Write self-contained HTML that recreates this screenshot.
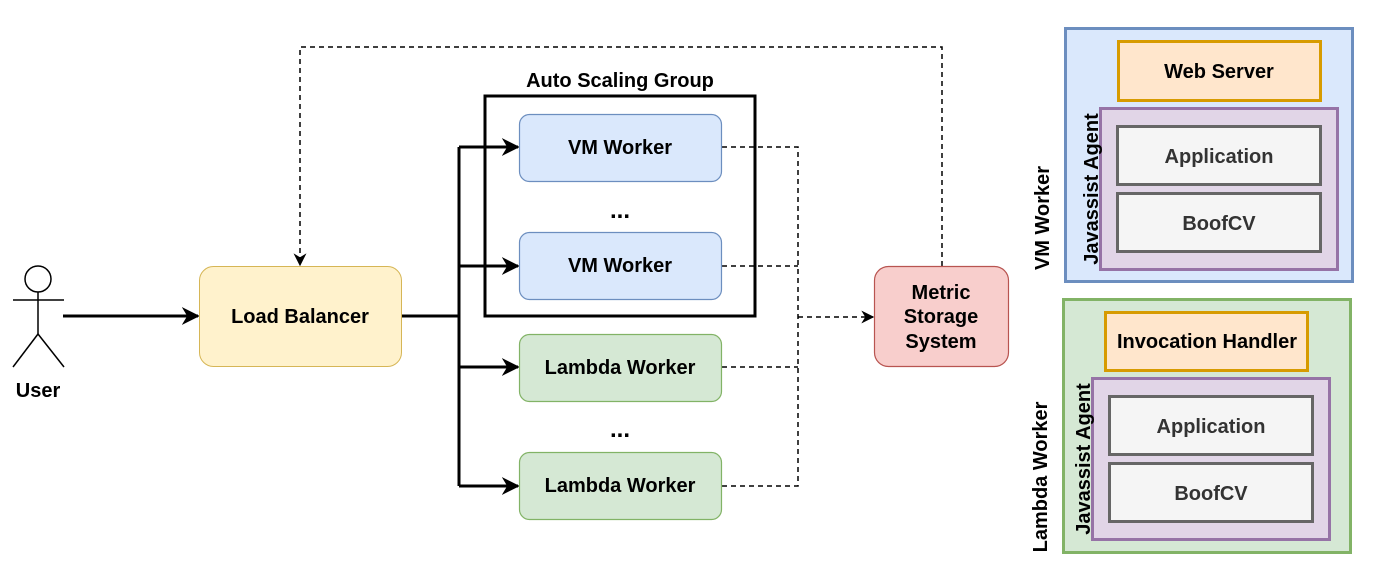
<!DOCTYPE html>
<html><head><style>html,body{margin:0;padding:0;background:#fff}svg{display:block}text{font-family:"Liberation Sans",Arial,sans-serif;font-weight:bold}</style></head>
<body>
<svg width="1381" height="588" viewBox="0 0 1381 588" xmlns="http://www.w3.org/2000/svg">
<defs>
<marker id="a" viewBox="0 0 10 10" refX="9" refY="5" markerWidth="13" markerHeight="13" markerUnits="userSpaceOnUse" orient="auto"><path d="M0,0 L10,5 L0,10 L3,5 Z" fill="#000"/></marker>
<marker id="b" viewBox="0 0 10 10" refX="9" refY="5" markerWidth="18" markerHeight="18" markerUnits="userSpaceOnUse" orient="auto"><path d="M0,0 L10,5 L0,10 L3,5 Z" fill="#000"/></marker>
</defs>
<g stroke="#000" stroke-width="1.5" fill="none">
<circle cx="38" cy="279" r="13" fill="#fff"/>
<line x1="38" y1="292" x2="38" y2="334"/>
<line x1="13" y1="300" x2="64" y2="300"/>
<line x1="38" y1="334" x2="13" y2="367"/>
<line x1="38" y1="334" x2="64" y2="367"/>
</g>
<text x="38" y="397" font-size="20" text-anchor="middle">User</text>
<g stroke="#000" stroke-width="3" fill="none">
<line x1="63" y1="316" x2="198" y2="316" marker-end="url(#b)"/>
<line x1="402" y1="316" x2="459" y2="316"/>
<line x1="459" y1="147" x2="459" y2="486"/>
<line x1="459" y1="147" x2="518" y2="147" marker-end="url(#b)"/>
<line x1="459" y1="266" x2="518" y2="266" marker-end="url(#b)"/>
<line x1="459" y1="367" x2="518" y2="367" marker-end="url(#b)"/>
<line x1="459" y1="486" x2="518" y2="486" marker-end="url(#b)"/>
</g>
<rect x="485" y="96" width="270" height="220" fill="none" stroke="#000" stroke-width="3"/>
<text x="620" y="87" font-size="20" text-anchor="middle">Auto Scaling Group</text>
<g stroke="#000" stroke-width="1.5" fill="none" stroke-dasharray="5,4">
<polyline points="942,266 942,47 300,47 300,265" marker-end="url(#a)"/>
<polyline points="722,147 798,147 798,486 722,486"/>
<line x1="722" y1="266" x2="798" y2="266"/>
<line x1="722" y1="367" x2="798" y2="367"/>
<line x1="798" y1="317" x2="873" y2="317" marker-end="url(#a)"/>
</g>
<rect x="199.5" y="266.5" width="202" height="100" rx="14" fill="#fff2cc" stroke="#d6b656"/>
<text x="300" y="323" font-size="20" text-anchor="middle">Load Balancer</text>
<g stroke-width="1.2">
<rect x="519.5" y="114.5" width="202" height="67" rx="10" fill="#dae8fc" stroke="#6c8ebf"/>
<rect x="519.5" y="232.5" width="202" height="67" rx="10" fill="#dae8fc" stroke="#6c8ebf"/>
<rect x="519.5" y="334.5" width="202" height="67" rx="10" fill="#d5e8d4" stroke="#82b366"/>
<rect x="519.5" y="452.5" width="202" height="67" rx="10" fill="#d5e8d4" stroke="#82b366"/>
</g>
<g font-size="20" text-anchor="middle">
<text x="620" y="154">VM Worker</text>
<text x="620" y="272">VM Worker</text>
<text x="620" y="374">Lambda Worker</text>
<text x="620" y="492">Lambda Worker</text>
<text x="620" y="218" font-size="24">...</text>
<text x="620" y="437" font-size="24">...</text>
</g>
<rect x="874.5" y="266.5" width="134" height="100" rx="14" fill="#f8cecc" stroke="#b85450" stroke-width="1.2"/>
<g font-size="20" text-anchor="middle"><text x="941" y="299">Metric</text><text x="941" y="323">Storage</text><text x="941" y="348">System</text></g>
<rect x="1065.5" y="28.5" width="287" height="253" fill="#dae8fc" stroke="#6c8ebf" stroke-width="3"/>
<rect x="1118.5" y="41.5" width="202" height="59" fill="#ffe6cc" stroke="#d79b00" stroke-width="3"/>
<rect x="1100.5" y="108.5" width="237" height="161" fill="#e1d5e7" stroke="#9673a6" stroke-width="3"/>
<rect x="1117.5" y="126.5" width="203" height="58" fill="#f5f5f5" stroke="#666" stroke-width="3"/>
<rect x="1117.5" y="193.5" width="203" height="58" fill="#f5f5f5" stroke="#666" stroke-width="3"/>
<text x="1219" y="78" font-size="20" text-anchor="middle">Web Server</text>
<text x="1219" y="163" font-size="20" text-anchor="middle" fill="#333">Application</text>
<text x="1219" y="230" font-size="20" text-anchor="middle" fill="#333">BoofCV</text>
<text transform="translate(1098,189) rotate(-90)" font-size="20" text-anchor="middle">Javassist Agent</text>
<text transform="translate(1049,218) rotate(-90)" font-size="20" text-anchor="middle">VM Worker</text>
<rect x="1063.5" y="299.5" width="287" height="253" fill="#d5e8d4" stroke="#82b366" stroke-width="3"/>
<rect x="1105.5" y="312.5" width="202" height="58" fill="#ffe6cc" stroke="#d79b00" stroke-width="3"/>
<rect x="1092.5" y="378.5" width="237" height="161" fill="#e1d5e7" stroke="#9673a6" stroke-width="3"/>
<rect x="1109.5" y="396.5" width="203" height="58" fill="#f5f5f5" stroke="#666" stroke-width="3"/>
<rect x="1109.5" y="463.5" width="203" height="58" fill="#f5f5f5" stroke="#666" stroke-width="3"/>
<text x="1207" y="348" font-size="20" text-anchor="middle">Invocation Handler</text>
<text x="1211" y="433" font-size="20" text-anchor="middle" fill="#333">Application</text>
<text x="1211" y="500" font-size="20" text-anchor="middle" fill="#333">BoofCV</text>
<text transform="translate(1090,459) rotate(-90)" font-size="20" text-anchor="middle">Javassist Agent</text>
<text transform="translate(1047,477) rotate(-90)" font-size="20" text-anchor="middle">Lambda Worker</text>
</svg>
</body></html>
